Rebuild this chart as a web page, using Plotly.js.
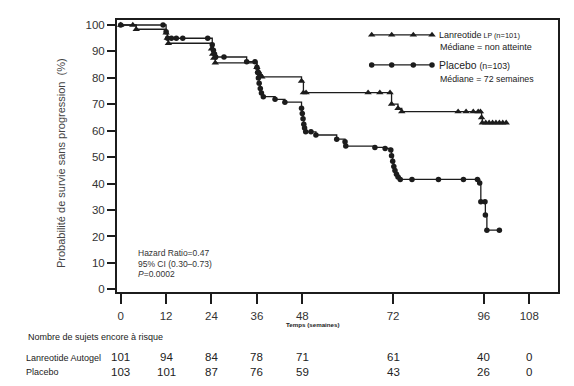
<!DOCTYPE html>
<html>
<head>
<meta charset="utf-8">
<script src="https://cdn.plot.ly/plotly-3.0.1.min.js"></script>
<style>
html,body{margin:0;padding:0;background:#fff;}
#chart{width:574px;height:386px;}
</style>
</head>
<body>
<div id="chart"></div>
<script>
// ---- data ----
const lanreotideWeeks = [0, 3.2, 4.1, 12.0, 12.3, 12.6, 24.0, 24.3, 24.6, 25.0, 36.0, 36.4, 36.9, 37.3, 47.8, 48.3, 49.0, 65.4, 68.5, 71.2, 71.6, 73.3, 74.3, 89.2, 91.3, 93.2, 94.5, 95.1, 95.4, 95.6, 96.5, 97.4, 98.3, 99.2, 100.1, 101.0, 101.9];
const lanreotideSurv  = [100, 100, 98.4, 97, 95, 93.1, 91, 89, 87.5, 85.7, 84, 82.5, 81.2, 80.4, 78.8, 74.4, 74.4, 74.4, 74.4, 74.4, 70.1, 68.5, 67.2, 67.2, 67.2, 67.2, 67.2, 67.2, 65, 63, 63, 63, 63, 63, 63, 63, 63];

const placeboWeeks = [0, 11.2, 12.0, 12.4, 13.4, 14.7, 16.4, 23.0, 24.2, 24.5, 24.8, 25.1, 27.3, 33.3, 35.5, 36.0, 36.2, 36.4, 36.6, 36.9, 37.2, 37.7, 40.8, 43.4, 47.8, 48.0, 48.2, 48.4, 48.6, 48.9, 50.3, 51.6, 57.1, 59.3, 59.5, 67.2, 69.9, 71.4, 71.6, 71.9, 72.2, 72.5, 72.9, 73.3, 73.9, 77.0, 84.0, 90.6, 94.3, 94.9, 95.2, 96.3, 96.4, 96.8, 100.1];
const placeboSurv  = [100, 100, 97.5, 95, 95, 95, 95, 95, 92.5, 90.5, 89, 87.9, 87.9, 86.1, 86.1, 84, 82, 80, 78, 76, 74.3, 72.9, 71.9, 70.8, 68.5, 66.5, 64.5, 62.5, 61, 59.6, 59.6, 58.4, 56.8, 55.8, 54.2, 53.7, 53.3, 52.7, 50.5, 48.5, 46.5, 45, 43.5, 42.5, 41.6, 41.6, 41.6, 41.6, 41.6, 40.2, 33.1, 33.1, 28.1, 22.4, 22.4];

const xTickVals = [0, 12, 24, 36, 48, 72, 96, 108];
const yTickVals = [0, 10, 20, 30, 40, 50, 60, 70, 80, 90, 100];

const riskTimes = [0, 12, 24, 36, 48, 72, 96, 108];
const lanreotideAtRisk = [101, 94, 84, 78, 71, 61, 40, 0];
const placeboAtRisk = [103, 101, 87, 76, 59, 43, 26, 0];

const lanreotideLabel = 'Lanreotide<span style="font-size:7px"> LP </span><span style="font-size:7.5px">(n=101)</span>';
const lanreotideMedian = 'Médiane = non atteinte';
const placeboLabel = 'Placebo <span style="font-size:8.8px">(n=103)</span>';
const placeboMedian = 'Médiane = 72 semaines';
const yTitle = 'Probabilité de survie sans progression  (%)';
const xTitle = 'Temps (semaines)';
const riskTitle = 'Nombre de sujets encore à risque';
const riskRowLabels = ['Lanreotide Autogel', 'Placebo'];
const statsLines = ['Hazard Ratio=0.47', '95% CI (0.30–0.73)', '<i>P</i>=0.0002'];

// ---- styling ----
const FONT = "'Liberation Sans', Arial, sans-serif";
const INK = '#1c1c1c';
const TXT = '#333';

const traces = [
  {
    x: lanreotideWeeks, y: lanreotideSurv, type: 'scatter', mode: 'lines+markers',
    line: {shape: 'hv', color: INK, width: 1.3},
    marker: {symbol: 'triangle-up', size: 6.5, color: INK},
    cliponaxis: false, showlegend: false, hoverinfo: 'skip'
  },
  {
    x: placeboWeeks, y: placeboSurv, type: 'scatter', mode: 'lines+markers',
    line: {shape: 'hv', color: INK, width: 1.3},
    marker: {symbol: 'circle', size: 5.5, color: INK},
    cliponaxis: false, showlegend: false, hoverinfo: 'skip'
  },
  // legend keys drawn on a hidden unit axis pair covering the plot area
  {
    x: [0.5775, 0.6229, 0.6719, 0.7143], y: [0.945, 0.945, 0.945, 0.945],
    xaxis: 'x2', yaxis: 'y2', type: 'scatter', mode: 'lines+markers',
    line: {color: INK, width: 1.3}, marker: {symbol: 'triangle-up', size: 6.5, color: INK},
    cliponaxis: false, showlegend: false, hoverinfo: 'skip'
  },
  {
    x: [0.5775, 0.6229, 0.6719, 0.7143], y: [0.835, 0.835, 0.835, 0.835],
    xaxis: 'x2', yaxis: 'y2', type: 'scatter', mode: 'lines+markers',
    line: {color: INK, width: 1.3}, marker: {symbol: 'circle', size: 5.5, color: INK},
    cliponaxis: false, showlegend: false, hoverinfo: 'skip'
  }
];

const L = 117, R = 16, T = 20, B = 94, W = 574, H = 386;
const pw = W - L - R, ph = H - T - B;
const px2paperX = p => (p - L) / pw;
const py2paperY = p => (H - B - p) / ph;

const annotations = [];
const ann = (o) => annotations.push(Object.assign({showarrow: false, xref: 'paper', yref: 'paper', xanchor: 'center', yanchor: 'middle'}, o));
// y title
ann({text: yTitle, x: px2paperX(61), y: py2paperY(163), textangle: -90,
     font: {family: FONT, size: 11, color: '#444'}});
// x title
ann({text: '<b>' + xTitle + '</b>', x: px2paperX(313), y: py2paperY(324),
     font: {family: FONT, size: 6.2, color: '#222'}});
// risk table
ann({text: riskTitle, x: px2paperX(26), y: py2paperY(337), xanchor: 'left',
     font: {family: FONT, size: 9, color: '#222'}});
ann({text: riskRowLabels[0], x: px2paperX(24), y: py2paperY(358), xanchor: 'left',
     font: {family: FONT, size: 9, color: '#222'}});
ann({text: riskRowLabels[1], x: px2paperX(24), y: py2paperY(372), xanchor: 'left',
     font: {family: FONT, size: 9, color: '#222'}});
riskTimes.forEach((t, i) => {
  ann({text: String(lanreotideAtRisk[i]), xref: 'x', x: t, y: py2paperY(357),
       font: {family: FONT, size: 11.5, color: '#222'}});
  ann({text: String(placeboAtRisk[i]), xref: 'x', x: t, y: py2paperY(372),
       font: {family: FONT, size: 11.5, color: '#222'}});
});
// stats
const statsY = [253, 263.5, 274];
statsLines.forEach((s, i) => {
  ann({text: s, x: px2paperX(136), y: py2paperY(statsY[i]), xanchor: 'left',
       font: {family: FONT, size: 8.5, color: '#333'}});
});
// legend texts
ann({text: lanreotideLabel, x: px2paperX(437), y: py2paperY(35), xanchor: 'left',
     font: {family: FONT, size: 9, color: '#222'}});
ann({text: lanreotideMedian, x: px2paperX(438), y: py2paperY(46.5), xanchor: 'left',
     font: {family: FONT, size: 9, color: '#222'}});
ann({text: placeboLabel, x: px2paperX(437), y: py2paperY(65), xanchor: 'left',
     font: {family: FONT, size: 10.4, color: '#222'}});
ann({text: placeboMedian, x: px2paperX(438), y: py2paperY(78.5), xanchor: 'left',
     font: {family: FONT, size: 8.8, color: '#222'}});

const layout = {
  width: W, height: H,
  margin: {l: L, r: R, t: T, b: B, pad: 0},
  paper_bgcolor: '#fff', plot_bgcolor: 'rgba(0,0,0,0)',
  showlegend: false,
  xaxis: {
    range: [-0.98, 115.6], autorange: false, tickvals: xTickVals, ticktext: xTickVals.map(String),
    ticks: 'outside', ticklen: 10, tickwidth: 2, tickcolor: INK, ticklabelstandoff: 2,
    showline: true, linewidth: 2, linecolor: INK, mirror: true,
    showgrid: false, zeroline: false,
    tickfont: {family: FONT, size: 11.5, color: TXT}
  },
  yaxis: {
    range: [-1.0, 101.9], autorange: false, tickvals: yTickVals, ticktext: yTickVals.map(String),
    ticks: 'outside', ticklen: 8, tickwidth: 2, tickcolor: INK,
    showline: true, linewidth: 2, linecolor: INK, mirror: true,
    showgrid: false, zeroline: false,
    tickfont: {family: FONT, size: 11.5, color: TXT}
  },
  xaxis2: {domain: [0, 1], anchor: 'y2', range: [0, 1], autorange: false, visible: false, fixedrange: true},
  yaxis2: {domain: [0, 1], anchor: 'x2', range: [0, 1], autorange: false, visible: false, fixedrange: true},
  annotations: annotations
};

Plotly.newPlot('chart', traces, layout, {staticPlot: true, displayModeBar: false});
</script>
</body>
</html>
